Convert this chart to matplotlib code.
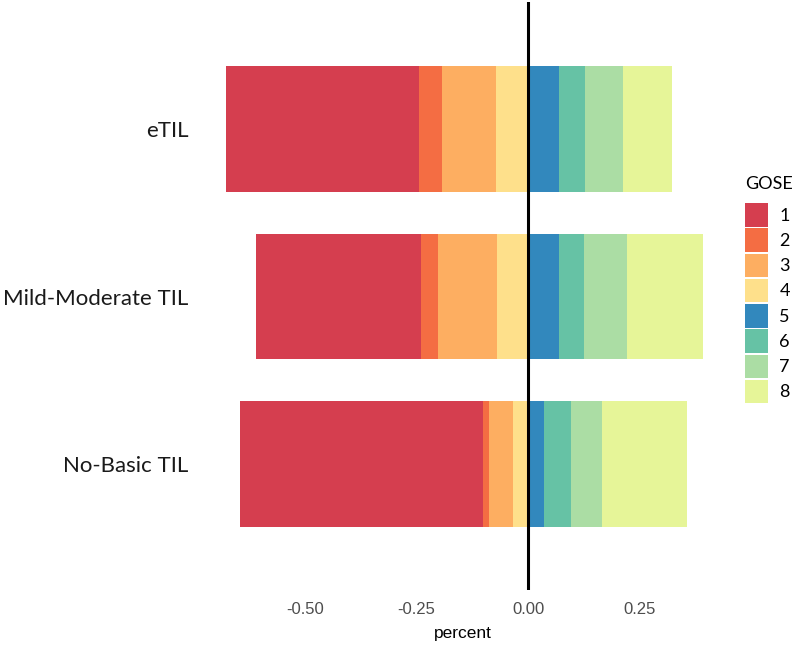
import numpy as np
import matplotlib.pyplot as plt
from matplotlib.patches import Patch

# GOSE share per group (fractions), categories 1..8
groups = ["No-Basic TIL", "Mild-Moderate TIL", "eTIL"]
gose_levels = ["1", "2", "3", "4", "5", "6", "7", "8"]
no_basic = [0.544, 0.013, 0.055, 0.033, 0.035, 0.061, 0.070, 0.191]
mild_moderate = [0.370, 0.037, 0.132, 0.070, 0.070, 0.056, 0.096, 0.170]
etil = [0.434, 0.052, 0.120, 0.072, 0.070, 0.057, 0.087, 0.109]
colors = ["#D53E4F", "#F46D43", "#FDAE61", "#FEE08B",
          "#3288BD", "#66C2A5", "#ABDDA4", "#E6F598"]
xticks = [-0.50, -0.25, 0.00, 0.25]

data = np.array([no_basic, mild_moderate, etil])
ypos = np.arange(len(groups))

fig = plt.figure(figsize=(7.96, 6.48), dpi=100)
ax = fig.add_axes([215 / 796, 58 / 648, 495 / 796, 588 / 648])

# negative side: GOSE 4 next to zero, 1 furthest out
left = np.zeros(len(groups))
for i in [3, 2, 1, 0]:
    ax.barh(ypos, -data[:, i], left=left, height=0.75, color=colors[i], linewidth=0)
    left = left - data[:, i]
# positive side: GOSE 5 next to zero
left = np.zeros(len(groups))
for i in [4, 5, 6, 7]:
    ax.barh(ypos, data[:, i], left=left, height=0.75, color=colors[i], linewidth=0)
    left = left + data[:, i]

ax.axvline(0, color="black", lw=2.2)

ax.set_xlim(-0.702, 0.408)
ax.set_ylim(-0.752, 2.758)
ax.set_xticks(xticks)
ax.set_xticklabels([f"{t:.2f}" for t in xticks], color="#4d4d4d",
                   family="Liberation Sans", fontsize=12)
ax.set_yticks(ypos)
ax.set_yticklabels(groups, family="Lato", fontsize=16, color="#1a1a1a")
ax.tick_params(axis="x", length=0, pad=9)
ax.tick_params(axis="y", length=0, pad=19)
for s in ax.spines.values():
    s.set_visible(False)
ax.set_xlabel("percent", family="Liberation Sans", fontsize=12.5, labelpad=6)

handles = [Patch(facecolor=c, edgecolor="none") for c in colors]
leg = fig.legend(handles, gose_levels, title="GOSE", loc="upper left",
                 bbox_to_anchor=(745 / 796, 1 - 176 / 648), frameon=False,
                 prop={"family": "Lato", "size": 13},
                 title_fontproperties={"family": "Lato", "size": 13},
                 handlelength=1.3, handleheight=1.62, labelspacing=0.1,
                 handletextpad=0.6, borderpad=0, borderaxespad=0)
leg._legend_box.align = "left"
leg._legend_box.sep = 8

fig.savefig("out.png", dpi=100)
